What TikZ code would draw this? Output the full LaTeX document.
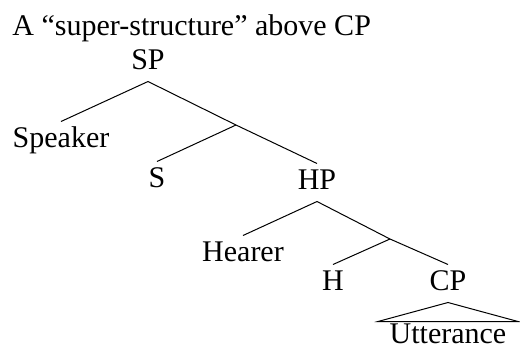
\documentclass[tikz,border=0pt]{standalone}
\usepackage{fontspec}
\setmainfont{Liberation Serif}
\usepackage{tikz}

\tikzset{
    cat/.style={inner xsep=0pt, inner ysep=5pt, text height=20pt, text depth=7pt, anchor=base},
    yield/.style={cat, inner ysep=1pt, text depth=0pt, minimum width=139pt}
}

\begin{document}
\begin{tikzpicture}[x=1pt, y=-1pt, line width=1pt, font=\fontsize{30}{36}\selectfont]
        \useasboundingbox (0,0) rectangle (520,349);
        \node[anchor=base west, inner sep=0pt] (title) at (12,35) {A “super-structure” above CP};

        \node[cat] (sp) at (148,69) {SP};
        \node[cat] (speaker) at (61,147) {Speaker};
        \coordinate (sbar) at (236,125);
        \node[cat] (s) at (157,187) {S};
        \node[cat] (hp) at (317,189) {HP};
        \node[cat] (hearer) at (243,261) {Hearer};
        \coordinate (hbar) at (390,239);
        \node[cat] (h) at (333,290) {H};
        \node[cat] (cp) at (448,290) {CP};
        \node[yield] (utt) at (448,343) {Utterance};

        \draw (sp.south) -- (speaker.north);
        \draw (sp.south) -- (sbar) -- (hp.north);
        \draw (sbar) -- (s.north);
        \draw (hp.south) -- (hearer.north);
        \draw (hp.south) -- (hbar) -- (cp.north);
        \draw (hbar) -- (h.north);
        \draw (cp.south) -- (utt.north west) -- (utt.north east) -- cycle;
    \end{tikzpicture}
\end{document}
